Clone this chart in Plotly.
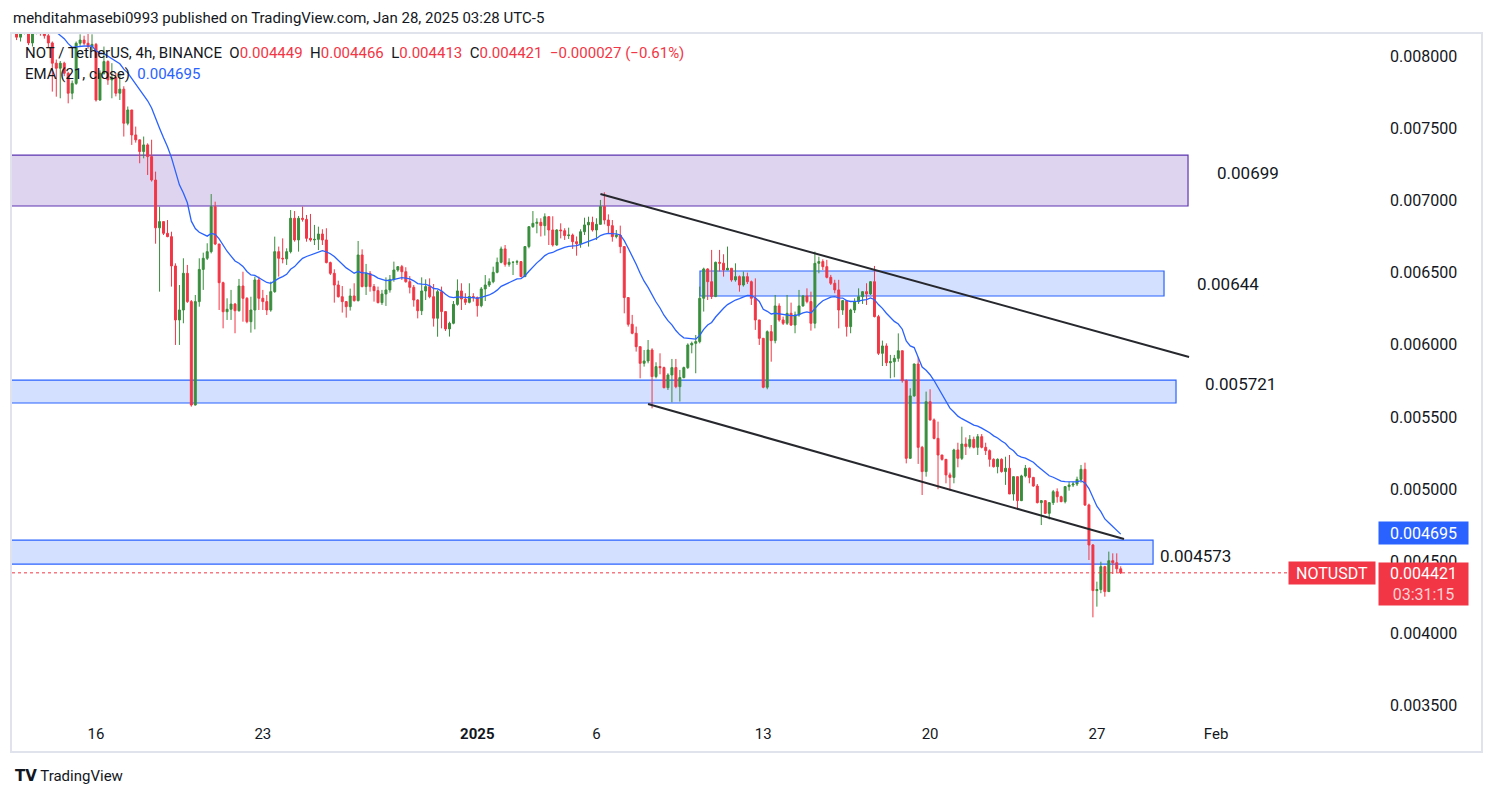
import plotly.graph_objects as go
import pandas as pd

# ---------------- data (prices in 1e-6 USDT) ----------------
first_bar = "2024-12-12 19:00"          # 4h bars, UTC-5
first_open_u = 8200
close_u = [
    8130, 8160, 8190, 8090, 8160, 8200, 8170, 8140, 8090, 7950, 7915, 7950, 7880, 7742, 7810, 8088, 8110, 8088, 8065, 8080,
    7695, 7880, 7961, 7834, 7850, 7742, 7770, 7534, 7626, 7453, 7419, 7338, 7384, 7303, 7141,
    6810, 6853, 6772, 6749, 6546, 6172, 6241, 6495, 6299, 5583, 6299, 6522, 6599, 6645, 6956, 6698, 6430, 6229, 6246, 6282,
    6236, 6407, 6322, 6160, 6241, 6449, 6322, 6299, 6241, 6368, 6645, 6599, 6595, 6645, 6876, 6726, 6876,
    6869, 6737, 6726, 6730, 6767, 6726, 6569, 6495, 6414, 6333, 6299, 6264, 6338, 6306, 6622, 6403, 6495, 6403, 6375, 6292,
    6352, 6380, 6453, 6518, 6541, 6506, 6437, 6398, 6310, 6236, 6373, 6403, 6333, 6184, 6368, 6230,
    6110, 6149, 6280, 6373, 6317, 6294, 6334, 6327, 6271, 6387, 6414, 6437, 6502, 6571, 6664, 6557, 6571, 6572, 6576, 6472,
    6680, 6818, 6841, 6848, 6825, 6887, 6795, 6691, 6795, 6790, 6756, 6760, 6714, 6700, 6783, 6830, 6848,
    6795, 6834, 6957, 6864, 6825, 6749, 6760, 6680, 6327, 6142, 6080, 5987, 5872, 5888, 5964, 5780, 5849, 5842, 5703, 5791,
    5842, 5710, 5773, 5842, 5999, 6010, 6022, 6322, 6525, 6437, 6334, 6571, 6565, 6518, 6530, 6449,
    6472, 6414, 6472, 6437, 6322, 6172, 6045, 5706, 6091, 6029, 6269, 6172, 6149, 6218, 6137, 6207, 6269, 6338, 6299, 6149,
    6564, 6576, 6541, 6467, 6426, 6380, 6241, 6306, 6126, 6241, 6299, 6333, 6368, 6352, 6437, 6195, 5941,
    5992, 5876, 5883, 5906, 5959, 5752, 5214, 5646, 5867, 5290, 5122, 5606, 5480, 5352, 5237, 5207, 5099, 5082, 5272, 5214,
    5313, 5295, 5345, 5290, 5364, 5290, 5267, 5207, 5156, 5207, 5122, 5145, 4967, 5087, 4921,
    5092, 5145, 5082, 5022, 4907, 4921, 4833, 4907, 4983, 4948, 4914, 5018, 5029, 5036, 5068, 5138, 4891, 4614, 4298, 4305,
    4464, 4291, 4505, 4491, 4449, 4421,
]
high_u = [
    8260, 8240, 8260, 8170, 8200, 8280, 8250, 8190, 8160, 8100, 7975, 7965, 7960, 7890, 7830, 8100, 8150, 8140, 8160, 8150,
    8090, 7900, 8065, 7970, 7950, 7880, 7880, 7790, 7650, 7626, 7511, 7420, 7442, 7395, 7420,
    7199, 6956, 6853, 6864, 6783, 6564, 6414, 6599, 6553, 6310, 6345, 6599, 6638, 6703, 7044, 6991, 6698, 6437, 6322, 6380,
    6290, 6456, 6506, 6330, 6333, 6472, 6472, 6380, 6345, 6437, 6749, 6680, 6737, 6668, 6933, 6926, 6892,
    6957, 6899, 6906, 6830, 6818, 6800, 6807, 6576, 6523, 6444, 6407, 6303, 6389, 6426, 6719, 6661, 6560, 6511, 6421, 6403,
    6380, 6467, 6483, 6576, 6545, 6553, 6537, 6476, 6414, 6315, 6467, 6453, 6460, 6421, 6380, 6403,
    6230, 6160, 6303, 6453, 6426, 6357, 6426, 6357, 6334, 6400, 6483, 6460, 6541, 6604, 6680, 6691, 6599, 6576, 6588, 6580,
    6680, 6820, 6926, 6876, 6876, 6910, 6890, 6890, 6800, 6841, 6807, 6811, 6770, 6750, 6800, 6880, 6887,
    6887, 6876, 7003, 7056, 6903, 6864, 6795, 6825, 6680, 6327, 6207, 6126, 5987, 5964, 6033, 5976, 5879, 5941, 5849, 5803,
    5902, 5902, 5826, 5849, 6010, 6022, 6068, 6403, 6534, 6530, 6657, 6576, 6657, 6627, 6680, 6530,
    6564, 6480, 6507, 6500, 6445, 6460, 6172, 6045, 6100, 6137, 6345, 6287, 6195, 6345, 6292, 6230, 6380, 6345, 6391, 6368,
    6645, 6610, 6592, 6588, 6484, 6450, 6450, 6310, 6310, 6250, 6322, 6391, 6370, 6426, 6440, 6546, 6207,
    6029, 6010, 5930, 5930, 6079, 5959, 5760, 5699, 5870, 5913, 5300, 5676, 5692, 5490, 5468, 5237, 5207, 5115, 5280, 5322,
    5433, 5359, 5375, 5364, 5382, 5382, 5322, 5276, 5214, 5214, 5214, 5225, 5237, 5090, 5087,
    5100, 5168, 5150, 5085, 5036, 4925, 4925, 4910, 4995, 5006, 4955, 5020, 5052, 5052, 5087, 5168, 5184, 4900, 4620, 4360,
    4498, 4470, 4568, 4556, 4556, 4466,
]
low_u = [
    8110, 8100, 8150, 8075, 8065, 8150, 8140, 8120, 8060, 7753, 7718, 7707, 7860, 7672, 7700, 7800, 8070, 8075, 8050, 8040,
    7684, 7690, 7870, 7800, 7707, 7720, 7695, 7442, 7520, 7384, 7400, 7257, 7291, 7176, 7130,
    6700, 6368, 6760, 6745, 6403, 5999, 5999, 6149, 6290, 5572, 5580, 6264, 6380, 6587, 6633, 6690, 6241, 6114, 6172, 6172,
    6080, 6230, 6160, 6149, 6084, 6107, 6241, 6241, 6206, 6229, 6360, 6472, 6564, 6553, 6633, 6714, 6645,
    6853, 6714, 6714, 6691, 6656, 6691, 6564, 6483, 6292, 6327, 6223, 6188, 6237, 6299, 6300, 6398, 6345, 6368, 6299, 6287,
    6276, 6269, 6361, 6437, 6506, 6449, 6430, 6356, 6264, 6183, 6206, 6310, 6322, 6126, 6056, 6114,
    6096, 6057, 6142, 6271, 6241, 6276, 6287, 6299, 6195, 6260, 6303, 6400, 6426, 6495, 6564, 6541, 6541, 6483, 6553, 6470,
    6470, 6668, 6810, 6772, 6750, 6756, 6691, 6680, 6686, 6737, 6726, 6733, 6664, 6617, 6672, 6760, 6680,
    6784, 6726, 6834, 6834, 6772, 6714, 6737, 6634, 6218, 6126, 6073, 5953, 5768, 5849, 5872, 5560, 5768, 5796, 5699, 5687,
    5602, 5699, 5607, 5768, 5833, 5941, 5803, 6010, 6230, 6310, 6317, 6330, 6507, 6472, 6518, 6437,
    6437, 6368, 6403, 6421, 6276, 6103, 5999, 5699, 5692, 5883, 6010, 6160, 6137, 6137, 6130, 6080, 6195, 6264, 6287, 6098,
    6114, 6495, 6518, 6460, 6414, 6357, 6114, 6207, 6057, 6080, 6220, 6283, 6283, 6276, 6345, 6190, 5929,
    5853, 5853, 5768, 5775, 5883, 5738, 5179, 5221, 5640, 5175, 4960, 5087, 5475, 5345, 5000, 5198, 5041, 4990, 5041, 5152,
    5202, 5237, 5283, 5283, 5237, 5283, 5237, 5156, 5150, 5110, 5115, 5030, 4967, 4921, 4860,
    4918, 5082, 5041, 5018, 4902, 4752, 4829, 4791, 4891, 4907, 4910, 4902, 4990, 5015, 5022, 5045, 4884, 4510, 4113, 4187,
    4280, 4256, 4290, 4413, 4422, 4413,
]

ema_len = 21
ema_seed_u = 8300          # EMA level just before the first visible bar
ema_last_label = 0.004695
last_close_label = 0.004421

zone_labels = ["0.00699", "0.00644", "0.005721", "0.004573"]
zone_low_u = [6961, 6338, 5597, 4482]
zone_high_u = [7314, 6511, 5756, 4648]
zone_start = ["2024-12-01 00:00", "2025-01-10 11:18", "2024-12-01 00:00", "2024-12-01 00:00"]
zone_end = ["2025-01-30 22:47", "2025-01-29 22:36", "2025-01-30 10:41", "2025-01-29 11:33"]

trend_t0 = ["2025-01-06 07:00", "2025-01-08 06:56"]
trend_p0_u = [7044, 5590]
trend_t1 = ["2025-01-30 23:50", "2025-01-28 06:20"]
trend_p1_u = [5916, 4655]

date_ticks = ["2024-12-16 03:00", "2024-12-23 03:00", "2025-01-01 03:00", "2025-01-06 03:00",
              "2025-01-13 03:00", "2025-01-20 03:00", "2025-01-27 03:00", "2025-02-01 03:00"]
date_tick_text = ["16", "23", "<b>2025</b>", "6", "13", "20", "27", "Feb"]
price_ticks = [0.0035, 0.004, 0.0045, 0.005, 0.0055, 0.006, 0.0065, 0.007, 0.0075, 0.008]

# ---------------- build ----------------
U = 1e-6
n = len(close_u)
assert len(high_u) == n and len(low_u) == n
times = pd.date_range(first_bar, periods=n, freq="4h")
close = [c * U for c in close_u]
high = [h * U for h in high_u]
low = [l * U for l in low_u]
open_ = [first_open_u * U] + close[:-1]

alpha = 2 / (ema_len + 1)
ema, prev = [], ema_seed_u * U
for c in close:
    prev = prev + alpha * (c - prev)
    ema.append(prev)

GREEN = "#388e3c"
RED = "#f23645"
BLUE = "#2962ff"
TXT = "#131722"
FONT = "Roboto, Arial, sans-serif"

OFF = 8                      # page body margin
W, H = 1495 - OFF, 798 - OFF
# plot area in page pixels
PL, PR, PT, PB = 12, 1380, 34, 719


def px_x(x):
    return (x - PL) / (PR - PL)


def px_y(y):
    return (PB - y) / (PB - PT)


fig = go.Figure()
fig.add_trace(go.Candlestick(
    x=times, open=open_, high=high, low=low, close=close,
    increasing=dict(line=dict(color=GREEN, width=1), fillcolor=GREEN),
    decreasing=dict(line=dict(color=RED, width=1), fillcolor=RED),
    whiskerwidth=0, hoverinfo="skip", showlegend=False,
))
fig.add_trace(go.Scatter(x=times, y=ema, mode="lines",
                         line=dict(color=BLUE, width=1.3), hoverinfo="skip", showlegend=False))

shapes = []
for i in range(len(zone_labels)):
    purple = i == 0
    shapes.append(dict(
        type="rect", xref="x", yref="y", layer="below",
        x0=zone_start[i], x1=zone_end[i], y0=zone_low_u[i] * U, y1=zone_high_u[i] * U,
        fillcolor="rgba(103,58,183,0.22)" if purple else "rgba(41,98,255,0.2)",
        line=dict(color="#5e35b1" if purple else BLUE, width=1.2),
    ))
for i in range(len(trend_t0)):
    shapes.append(dict(type="line", xref="x", yref="y", layer="above",
                       x0=trend_t0[i], y0=trend_p0_u[i] * U, x1=trend_t1[i], y1=trend_p1_u[i] * U,
                       line=dict(color="#26282e", width=2)))
# last price dotted line
shapes.append(dict(type="line", xref="paper", yref="y", x0=0, x1=px_x(1290),
                   y0=close[-1], y1=close[-1], line=dict(color=RED, width=1, dash="dot")))
# outer frame
shapes.append(dict(type="rect", xref="paper", yref="paper", layer="below",
                   x0=px_x(11), x1=px_x(1482), y0=px_y(752), y1=px_y(33),
                   line=dict(color="#e0e3eb", width=2)))

ann = []
ann.append(dict(xref="paper", yref="paper", x=px_x(11), y=px_y(18), xanchor="left", yanchor="middle",
                showarrow=False, font=dict(size=15, color=TXT, family=FONT),
                text="mehditahmasebi0993 published on TradingView.com, Jan 28, 2025 03:28 UTC-5"))
sp = "\u00a0\u00a0"
r = lambda s: f"<span style='color:{RED}'>{s}</span>"
ann.append(dict(xref="paper", yref="paper", x=px_x(23), y=px_y(53), xanchor="left", yanchor="middle",
                showarrow=False, font=dict(size=15, color=TXT, family=FONT),
                text=("NOT / TetherUS, 4h, BINANCE" + sp + "O" + r("0.004449") + sp + "H" + r("0.004466") + sp +
                      "L" + r("0.004413") + sp + "C" + r("0.004421") + sp + r("\u22120.000027 (\u22120.61%)"))))
ann.append(dict(xref="paper", yref="paper", x=px_x(23), y=px_y(74), xanchor="left", yanchor="middle",
                showarrow=False, font=dict(size=15, color=TXT, family=FONT),
                text="EMA (21, close)" + sp + f"<span style='color:{BLUE}'>0.004695</span>"))

label_pos = [(1215, 173), (1195, 284), (1203, 384), (1158, 556)]
for lbl, (lx, ly) in zip(zone_labels, label_pos):
    ann.append(dict(xref="paper", yref="paper", x=px_x(lx), y=px_y(ly), xanchor="left", yanchor="middle",
                    showarrow=False, font=dict(size=17, color=TXT, family=FONT), text=lbl))

# price-scale labels
ann.append(dict(xref="paper", yref="y", x=px_x(1378), y=ema_last_label, xanchor="left", yanchor="middle",
                showarrow=False, bgcolor=BLUE, width=87, height=20, borderpad=1,
                font=dict(size=16, color="white", family=FONT), text=f"{ema_last_label:.6f}"))
ann.append(dict(xref="paper", yref="y", x=px_x(1376), y=last_close_label, xanchor="right", yanchor="middle",
                showarrow=False, bgcolor=RED, width=84, height=20, borderpad=1,
                font=dict(size=16, color="white", family=FONT), text="NOTUSDT"))
ann.append(dict(xref="paper", yref="y", x=px_x(1378), y=last_close_label, xanchor="left", yanchor="top",
                yshift=11, showarrow=False, bgcolor=RED, width=87, height=40, borderpad=1,
                font=dict(size=16, color="white", family=FONT),
                text=f"{last_close_label:.6f}<br><span style='color:rgba(255,255,255,0.78)'>03:31:15</span>"))
# footer logo
ann.append(dict(xref="paper", yref="paper", x=px_x(13), y=px_y(776), xanchor="left", yanchor="middle",
                showarrow=False, font=dict(size=15, color=TXT, family=FONT),
                text="<b style='font-family:DejaVu Sans'>TV</b> TradingView"))

fig.update_layout(
    width=W, height=H,
    margin=dict(l=PL - OFF, r=(W + OFF) - PR, t=PT - OFF, b=(H + OFF) - PB),
    paper_bgcolor="white", plot_bgcolor="white",
    shapes=shapes, annotations=ann, showlegend=False, hovermode=False,
    font=dict(family=FONT, color=TXT),
    xaxis=dict(type="date", range=["2024-12-12 14:24", "2025-02-08 00:07"],
               rangeslider=dict(visible=False), showgrid=False, zeroline=False, showline=False,
               tickmode="array", tickvals=date_ticks, ticktext=date_tick_text, ticks="",
               tickfont=dict(size=15, color=TXT, family=FONT), ticklabelstandoff=4),
    yaxis=dict(side="right", range=[0.003409, 0.008152], showgrid=False, zeroline=False, showline=False,
               tickmode="array", tickvals=price_ticks, tickformat=".6f", ticks="",
               tickfont=dict(size=16, color=TXT, family=FONT), ticklabelstandoff=9),
)

fig.write_html("out.html")
